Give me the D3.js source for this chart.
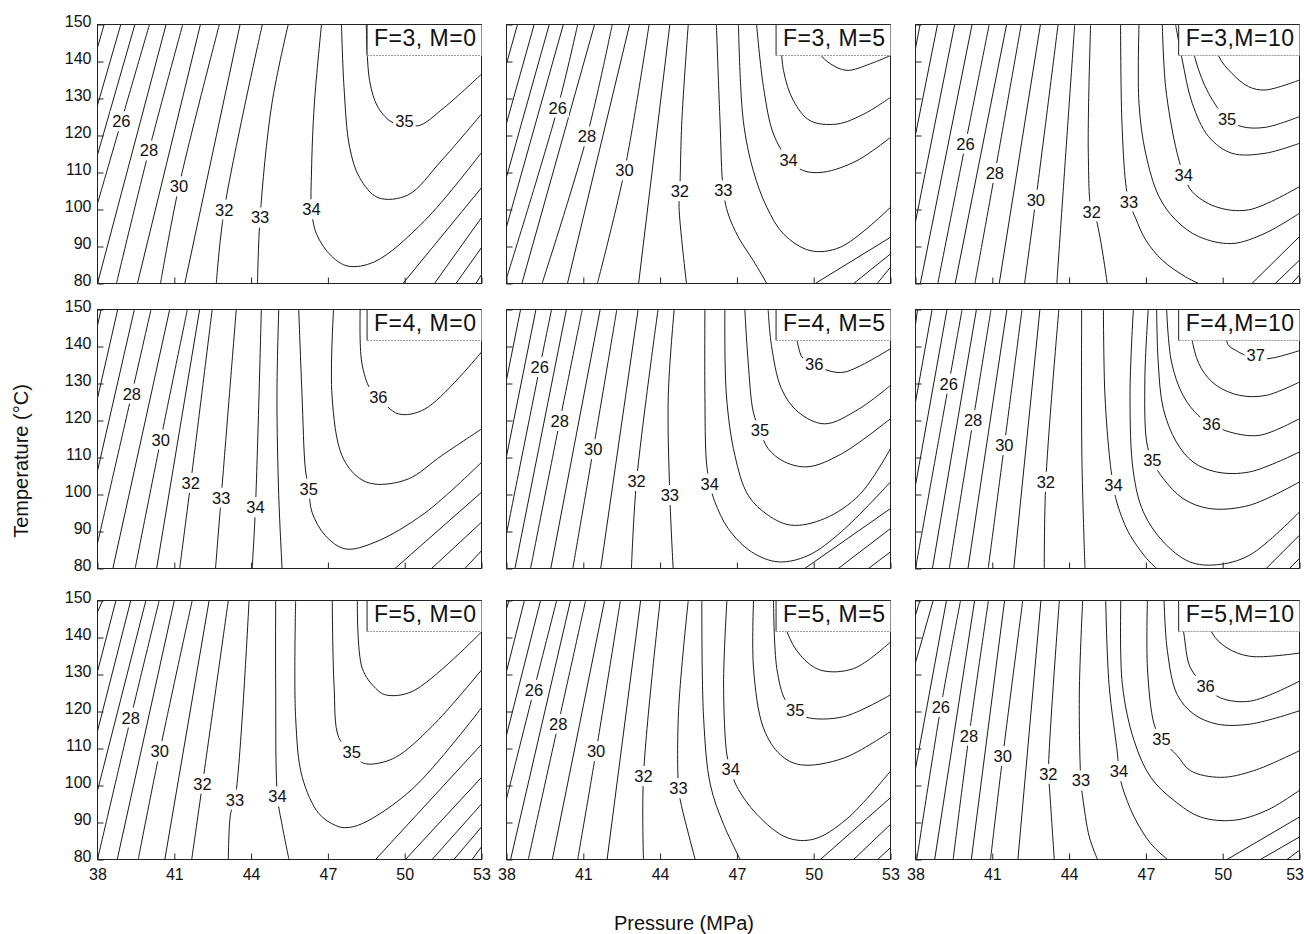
<!DOCTYPE html>
<html>
<head>
<meta charset="utf-8">
<script src="https://cdn.jsdelivr.net/npm/d3@7"></script>
<style>
  body { margin: 0; background: #fff; }
  text { font-family: "Liberation Sans", Arial, sans-serif; fill: #111; }
</style>
</head>
<body>
<svg id="chart" width="1304" height="934"></svg>
<script>
// axis ticks
const pressureTicks = [38, 41, 44, 47, 50, 53];
const tempTicks = [80, 90, 100, 110, 120, 130, 140, 150];

const panelTitles = ['F=3, M=0', 'F=3, M=5', 'F=3,M=10',
                     'F=4, M=0', 'F=4, M=5', 'F=4,M=10',
                     'F=5, M=0', 'F=5, M=5', 'F=5,M=10'];

// contour lines, points are [pressure MPa, temperature C]
const contoursF3M0 = [
  [[38,143.8],[38.26,150]],
  [[38,128.2],[38.91,150]],
  [[38,114.8],[39.46,150]],
  [[38,101.6],[38.93,123.8],[40.03,150]],
  [[38,80],[40.68,150]],
  [[38.74,80],[40.01,115.9],[41.33,150]],
  [[39.56,80],[42.02,150]],
  [[40.46,80],[41.18,106.2],[42.76,150]],
  [[41.41,80],[43.57,150]],
  [[42.64,80],[42.95,99.9],[44.44,150]],
  [[44.25,80],[44.35,97.8],[44.81,128.5],[45.45,150]],
  [[46.75,150],[46.47,128.5],[46.36,110.4],[46.36,100],[46.56,93.3],[47.14,87.4],[47.79,84.7],[48.83,85.9],[50.77,96.9],[53,115.4]],
  [[47.53,150],[47.63,133],[47.85,116.8],[48.24,108.6],[48.96,103.2],[50.12,103.9],[51.42,113.1],[53,125.8]],
  [[48.5,150],[48.63,134.8],[48.96,127.6],[49.54,123.5],[49.99,123.8],[50.51,122.6],[51.55,127.6],[53,136.6]],
  [[49.93,80],[53,105.9]],
  [[51.16,80],[53,97.8]],
  [[52,80],[53,89.7]],
  [[52.78,80],[53,82.4]]
];
const labelsF3M0 = [['26',38.93,123.8],['28',40.01,115.9],['30',41.18,106.2],['32',42.95,99.9],
                    ['33',44.35,97.8],['34',46.36,100],['35',49.99,123.8]];

const contoursF3M5 = [
  [[38,139.4],[38.43,150]],
  [[38,123.3],[39.08,150]],
  [[38,108.8],[39.67,150]],
  [[38,95.3],[40.22,150]],
  [[38,81.4],[40.0,127.5],[40.78,150]],
  [[38.6,80],[41.44,150]],
  [[39.39,80],[41.14,119.7],[42.13,150]],
  [[40.38,80],[42.81,150]],
  [[41.55,80],[42.61,110.5],[43.57,150]],
  [[43.16,80],[44.38,150]],
  [[45.03,80],[44.74,100.6],[44.77,104.9],[44.85,124],[45.1,150]],
  [[46.2,150],[46.34,124],[46.47,105.1],[46.66,98.8],[47.06,92.5],[47.64,86.2],[48.17,80]],
  [[47.06,150],[47.25,124],[47.64,110.5],[48.17,100.6],[48.82,93.4],[49.86,88.9],[51.04,89.8],[53,100.6]],
  [[47.77,150],[48.04,133],[48.43,120.4],[49.02,113.4],[49.6,110.5],[50.39,110.1],[51.69,113.2],[53,119.5]],
  [[48.69,150],[48.82,137.6],[49.21,129.4],[49.86,124],[50.91,123.1],[51.96,125.8],[53,130.3]],
  [[50.1,150],[50.26,142.1],[50.65,139.4],[51.3,137.6],[52.22,139.4],[53,141.6]],
  [[50.06,80],[53,92.5]],
  [[51.56,80],[53,88]],
  [[52.48,80],[53,84.4]]
];
const labelsF3M5 = [['26',40.0,127.5],['28',41.14,119.7],['30',42.61,110.5],['32',44.77,104.9],
                    ['33',46.47,105.1],['34',49.02,113.4]];

const contoursF3M10 = [
  [[38,143.6],[38.18,150]],
  [[38,120.2],[38.86,150]],
  [[38,96.7],[39.53,150]],
  [[38.19,80],[40.21,150]],
  [[38.87,80],[39.95,117.7],[40.88,150]],
  [[39.55,80],[41.56,150]],
  [[40.32,80],[41.1,109.8],[42.13,150]],
  [[41.27,80],[42.88,150]],
  [[42.26,80],[42.7,102.6],[43.57,150]],
  [[43.52,80],[43.87,115.2],[44.22,150]],
  [[45.49,80],[45.04,97.6],[44.88,99.4],[44.75,115.2],[44.84,150]],
  [[46.01,150],[46.06,124.2],[46.21,107.1],[46.34,102.1],[46.6,97.6],[46.99,91.8],[47.64,86.3],[48.55,81.8],[49.06,80]],
  [[46.73,150],[46.73,128.7],[46.99,115.2],[47.51,103.5],[48.16,97.2],[49.06,92.7],[50.36,90.8],[51.66,93.6],[53,99]],
  [[47.64,150],[47.77,133.2],[48.16,117],[48.48,109.3],[48.81,104.8],[49.71,100.8],[51.01,99.9],[53,106.2]],
  [[48.16,150],[48.42,140.4],[48.81,128.7],[49.45,119.7],[50.36,115.2],[51.66,115.2],[53,117.9]],
  [[48.68,150],[48.94,140.4],[49.45,131.4],[50.17,124.5],[50.75,122.4],[51.66,122.2],[53,125.1]],
  [[49.6,150],[49.84,141.5],[50.36,136.8],[51.01,133.2],[51.66,132.3],[53,135]],
  [[51.14,80],[53,92.7]],
  [[52.05,80],[53,86.3]],
  [[52.7,80],[53,82.3]]
];
const labelsF3M10 = [['26',39.95,117.7],['28',41.1,109.8],['30',42.7,102.6],['32',44.88,99.4],
                     ['33',46.34,102.1],['34',48.48,109.3],['35',50.17,124.5]];

const contoursF4M0 = [
  [[38,145.7],[38.14,150]],
  [[38,126],[38.79,150]],
  [[38,106.4],[39.44,150]],
  [[38,86.8],[39.34,127.2],[40.09,150]],
  [[38.6,80],[40.82,150]],
  [[39.47,80],[40.47,114.8],[41.51,150]],
  [[40.31,80],[41.99,150]],
  [[41.21,80],[41.64,103.1],[42.48,150]],
  [[42.61,80],[42.83,99.1],[43.42,150]],
  [[44.04,80],[44.17,96.5],[44.4,150]],
  [[45.08,150],[45.01,126.7],[45.08,99.7],[45.21,80]],
  [[45.86,150],[45.99,126.7],[46.12,106.9],[46.25,101.5],[46.38,95.2],[46.9,88.9],[47.68,85.3],[48.84,87.1],[50.79,95],[53,108.7]],
  [[47.22,150],[47.16,126.7],[47.55,110.5],[48.19,104.6],[48.84,102.8],[50.14,104.2],[51.44,110.5],[53,117.7]],
  [[48.26,150],[48.32,135.8],[48.65,128.5],[48.97,126.3],[49.75,121.8],[50.79,123.1],[53,138.5]],
  [[49.62,80],[53,100.6]],
  [[51.05,80],[53,92.5]],
  [[52.35,80],[53,84.8]]
];
const labelsF4M0 = [['28',39.34,127.2],['30',40.47,114.8],['32',41.64,103.1],['33',42.83,99.1],
                    ['34',44.17,96.5],['35',46.25,101.5],['36',48.97,126.3]];

const contoursF4M5 = [
  [[38,131],[38.55,150]],
  [[38,110.3],[39.15,150]],
  [[38,89.4],[39.3,134.4],[39.76,150]],
  [[38.33,80],[40.34,150]],
  [[38.94,80],[40.08,119.8],[40.96,150]],
  [[39.73,80],[41.66,150]],
  [[40.59,80],[41.39,112.2],[42.31,150]],
  [[41.68,80],[43.14,150]],
  [[42.88,80],[43.08,103.6],[43.92,150]],
  [[44.51,80],[44.38,99.8],[44.32,126.8],[44.55,150]],
  [[45.75,150],[45.75,126.8],[45.81,108.8],[45.94,102.9],[46.14,98],[46.66,90.8],[47.57,84.5],[48.61,81.8],[49.78,83.5],[51.09,90],[53,103.4]],
  [[46.53,150],[46.59,126.8],[46.92,110.6],[47.44,99.8],[48.22,94.4],[49.13,91.7],[50.43,93.5],[51.8,100],[53,112.4]],
  [[47.31,150],[47.44,135.8],[47.64,122.3],[47.9,117.3],[48.22,112.4],[48.87,108.8],[49.78,107.5],[51.09,111],[53,120.5]],
  [[48.22,150],[48.35,140.3],[48.74,128.6],[49.39,122.3],[50.43,119.1],[51.74,123],[53,129.5]],
  [[49.2,150],[49.39,140.3],[49.58,136.8],[50.02,135.3],[50.56,133.5],[51.22,133.1],[53,139.4]],
  [[49.65,80],[53,96.2]],
  [[50.96,80],[53,90.8]],
  [[52.14,80],[53,84.5]]
];
const labelsF4M5 = [['26',39.3,134.4],['28',40.08,119.8],['30',41.39,112.2],['32',43.08,103.6],
                    ['33',44.38,99.8],['34',45.94,102.9],['35',47.9,117.3],['36',50.02,135.3]];

const contoursF4M10 = [
  [[38,146],[38.08,150]],
  [[38,125],[38.65,150]],
  [[38,102.5],[39.23,150]],
  [[38,80],[39.3,129.9],[39.82,150]],
  [[38.66,80],[40.38,150]],
  [[39.32,80],[40.25,120],[40.95,150]],
  [[40.05,80],[41.57,150]],
  [[40.84,80],[41.47,113.3],[42.16,150]],
  [[41.84,80],[42.86,150]],
  [[43.03,80],[43.09,103.4],[43.6,150]],
  [[44.62,80],[44.5,110],[44.49,150]],
  [[45.34,150],[45.4,126.8],[45.6,108.8],[45.73,102.5],[45.86,98],[46.31,89.9],[47.03,82.7],[47.42,80]],
  [[46.51,150],[46.38,126.8],[46.51,106.1],[46.9,95.3],[47.68,87.2],[48.71,81.8],[49.75,81],[51.05,83.6],[53,95.3]],
  [[47.09,150],[46.96,131.3],[47.03,114.2],[47.25,109.2],[47.68,104.3],[48.45,98.9],[49.49,96.2],[51.05,97.1],[53,103.4]],
  [[47.42,150],[47.48,135.8],[47.68,123.2],[48.19,114.2],[48.84,108.8],[49.75,106.1],[51.05,106.1],[53,111.5]],
  [[47.81,150],[48.0,135.8],[48.45,126.8],[49.04,121.4],[49.56,119.1],[50.27,116.9],[51.44,116],[53,120.5]],
  [[48.7,150],[48.84,140.5],[49.17,134],[49.75,129.5],[50.66,126.8],[51.7,126.8],[53,130.4]],
  [[50.0,150],[50.21,140.5],[50.53,138.9],[50.92,137.6],[51.29,137.6],[51.7,136.7],[53,138.9]],
  [[51.7,80],[53,89]],
  [[52.61,80],[53,82.7]]
];
const labelsF4M10 = [['26',39.3,129.9],['28',40.25,120],['30',41.47,113.3],['32',43.09,103.4],
                     ['34',45.73,102.5],['35',47.25,109.2],['36',49.56,119.1],['37',51.29,137.6]];

const contoursF5M0 = [
  [[38,146.9],[38.2,150]],
  [[38,130.8],[38.72,150]],
  [[38,114.7],[39.3,150]],
  [[38,98.6],[39.89,150]],
  [[38,80],[39.3,118.3],[40.41,150]],
  [[38.77,80],[41.0,150]],
  [[39.59,80],[40.43,109.2],[41.7,150]],
  [[40.63,80],[42.36,150]],
  [[41.68,80],[42.1,100.4],[43.11,150]],
  [[43.11,80],[43.2,92.4],[43.37,96.1],[43.92,150]],
  [[45.48,80],[45.22,89],[45.03,97],[44.96,127.2],[44.96,150]],
  [[45.74,150],[45.74,118.3],[46.0,102.2],[46.65,92.4],[47.3,89.2],[47.69,88.6],[48.34,89.7],[50.29,99],[53,121]],
  [[47.17,150],[47.24,127.2],[47.43,112.9],[47.93,109.1],[48.34,106.2],[48.73,105.8],[49.64,107.6],[51.07,116],[53,131.2]],
  [[48.15,150],[48.34,131.7],[48.86,126.3],[49.25,124.5],[50.29,125.4],[53,141.5]],
  [[48.86,80],[53,111.1]],
  [[50.03,80],[53,102.2]],
  [[51.07,80],[53,95]],
  [[51.92,80],[53,88.8]],
  [[52.63,80],[53,83.4]]
];
const labelsF5M0 = [['28',39.3,118.3],['30',40.43,109.2],['32',42.1,100.4],['33',43.37,96.1],
                    ['34',45.03,97],['35',47.93,109.1]];

const contoursF5M5 = [
  [[38,147.8],[38.1,150]],
  [[38,130.8],[38.7,150]],
  [[38,113.6],[39.33,150]],
  [[38,96.4],[39.07,125.8],[39.96,150]],
  [[38.16,80],[40.5,150]],
  [[38.85,80],[40.02,116.6],[41.09,150]],
  [[39.79,80],[41.83,150]],
  [[40.78,80],[41.5,109.2],[42.45,150]],
  [[41.93,80],[43.24,150]],
  [[43.35,80],[43.35,102.5],[44.0,150]],
  [[45.37,80],[44.81,95.3],[44.72,99.2],[44.72,120],[45.1,150]],
  [[45.63,150],[45.7,118.2],[45.96,100.3],[46.48,89.5],[47.13,80]],
  [[46.61,150],[46.48,127.2],[46.61,108.3],[46.76,104.3],[46.99,99.8],[47.78,92.2],[48.96,85.9],[50.0,85.5],[51.3,91],[53,103.9]],
  [[47.65,150],[47.65,131.6],[48.04,115.5],[48.7,108.3],[49.48,105.6],[51.17,107.4],[53,114.6]],
  [[48.43,150],[48.56,131.6],[48.89,123.1],[49.28,120.4],[49.74,118.4],[51.17,118.6],[53,124.5]],
  [[48.7,150],[48.96,141.5],[49.48,135.2],[50.26,131.2],[51.56,131.6],[53,138.8]],
  [[50.26,80],[53,96.7]],
  [[51.56,80],[53,89.5]],
  [[52.5,80],[53,83.2]]
];
const labelsF5M5 = [['26',39.07,125.8],['28',40.02,116.6],['30',41.5,109.2],['32',43.35,102.5],
                    ['33',44.72,99.2],['34',46.76,104.3],['35',49.28,120.4]];

const contoursF5M10 = [
  [[38,146],[38.17,150]],
  [[38,133.2],[38.69,150]],
  [[38,104.5],[39.21,150]],
  [[38.05,80],[38.99,121.2],[39.76,150]],
  [[38.75,80],[40.31,150]],
  [[39.47,80],[40.09,113.4],[40.85,150]],
  [[40.18,80],[41.48,150]],
  [[40.93,80],[41.41,107.9],[42.19,150]],
  [[42.0,80],[42.9,150]],
  [[43.42,80],[43.23,99.6],[43.19,103.1],[43.62,150]],
  [[45.11,80],[44.79,86.1],[44.53,96.9],[44.46,101.3],[44.4,125],[44.53,150]],
  [[45.43,150],[45.56,127.3],[45.89,108.5],[45.95,103.8],[46.08,99.6],[46.54,91.5],[47.19,84.3],[47.84,80]],
  [[46.02,150],[46.08,127.3],[46.54,112.1],[47.19,102.2],[48.09,96],[49.13,91.5],[50.43,90.6],[51.73,93.3],[53,98.7]],
  [[47.06,150],[47.06,131.8],[47.32,116.6],[47.61,112.5],[48.22,108.1],[48.74,104],[49.91,102.2],[51.21,104],[53,109.4]],
  [[47.71,150],[47.84,136.3],[48.22,124.6],[48.87,119.3],[49.78,116.6],[51.08,116.6],[53,120.2]],
  [[48.3,150],[48.48,141.2],[48.74,131.8],[49.33,126.9],[49.91,123.7],[51.08,122.8],[53,128.2]],
  [[49.3,150],[49.59,141.2],[50.17,137.2],[51.08,134.9],[53,135.8]],
  [[50.17,80],[53,91.5]],
  [[51.47,80],[53,86.1]],
  [[52.51,80],[53,82.5]]
];
const labelsF5M10 = [['26',38.99,121.2],['28',40.09,113.4],['30',41.41,107.9],['32',43.19,103.1],
                     ['33',44.46,101.3],['34',45.95,103.8],['35',47.61,112.5],['36',49.33,126.9]];

const panelLines = [contoursF3M0, contoursF3M5, contoursF3M10,
                    contoursF4M0, contoursF4M5, contoursF4M10,
                    contoursF5M0, contoursF5M5, contoursF5M10];
const panelLabels = [labelsF3M0, labelsF3M5, labelsF3M10,
                     labelsF4M0, labelsF4M5, labelsF4M10,
                     labelsF5M0, labelsF5M5, labelsF5M10];

// layout
const colLeft = [97, 506, 915];
const rowTop = [24, 309, 600];
const panelW = 384, panelH = 259;
const fontFamily = '"Liberation Sans", Arial, sans-serif';

var svg = d3.select('#chart');

var x = d3.scaleLinear().domain([38, 53]).range([0, panelW]);
var y = d3.scaleLinear().domain([80, 150]).range([panelH, 0]);

var contourLine = d3.line()
    .x(d => x(d[0]))
    .y(d => y(d[1]))
    .curve(d3.curveCatmullRom.alpha(0.5));

panelTitles.forEach(function(title, i) {
    var r = Math.floor(i / 3), c = i % 3;
    var g = svg.append('g')
        .attr('transform', 'translate(' + (colLeft[c] + 0.5) + ',' + (rowTop[r] + 0.5) + ')');

    g.append('clipPath').attr('id', 'clip' + i)
        .append('rect').attr('width', panelW).attr('height', panelH);

    var body = g.append('g').attr('clip-path', 'url(#clip' + i + ')');

    body.selectAll('path')
        .data(panelLines[i])
            .enter()
                .append('path')
                    .attr('d', contourLine)
                    .attr('fill', 'none')
                    .attr('stroke', '#1a1a1a')
                    .attr('stroke-width', 1);

    // contour labels with a white knock-out behind them
    var labs = body.selectAll('g.lab')
        .data(panelLabels[i])
            .enter()
                .append('g')
                    .attr('class', 'lab')
                    .attr('transform', d => 'translate(' + x(d[1]) + ',' + y(d[2]) + ')');
    labs.append('text')
        .attr('text-anchor', 'middle')
        .attr('dy', '0.35em')
        .attr('font-size', 16.5)
        .text(d => d[0]);
    labs.each(function() {
        var bb = d3.select(this).select('text').node().getBBox();
        d3.select(this).insert('rect', 'text')
            .attr('x', bb.x - 2).attr('y', bb.y - 1)
            .attr('width', bb.width + 4).attr('height', bb.height + 2)
            .attr('fill', '#fff');
    });

    // axes with inward ticks
    var xAxis = d3.axisBottom(x).tickValues(pressureTicks)
        .tickSizeInner(-6).tickSizeOuter(0).tickPadding(9);
    if (r < 2) xAxis.tickFormat('');
    var xg = g.append('g')
        .attr('transform', 'translate(0,' + panelH + ')')
        .call(xAxis)
        .attr('font-size', 16).attr('font-family', fontFamily)
        .call(a => a.select('.domain').remove())
        .call(a => a.selectAll('line').attr('stroke', '#222'));
    if (c === 2) {
        // keep the last label inside the page
        xg.selectAll('text').filter(d => d === 53)
            .attr('text-anchor', 'end').attr('x', 4);
    }

    var yAxis = d3.axisLeft(y).tickValues(tempTicks)
        .tickSizeInner(-6).tickSizeOuter(0).tickPadding(6);
    if (c > 0) yAxis.tickFormat('');
    g.append('g')
        .call(yAxis)
        .attr('font-size', 16).attr('font-family', fontFamily)
        .call(a => a.select('.domain').remove())
        .call(a => a.selectAll('line').attr('stroke', '#222'))
        .call(a => a.selectAll('text').attr('y', -3));

    // frame
    g.append('rect')
        .attr('width', panelW).attr('height', panelH)
        .attr('fill', 'none').attr('stroke', '#222').attr('stroke-width', 1);

    // title box in the top right corner
    var tg = g.append('g');
    var tt = tg.append('text')
        .attr('x', panelW - 5).attr('y', 21)
        .attr('text-anchor', 'end')
        .attr('font-size', 23)
        .attr('letter-spacing', 0.5)
        .text(title);
    var tb = tt.node().getBBox();
    var bx = tb.x - 7;
    tg.insert('rect', 'text')
        .attr('x', bx).attr('y', 0)
        .attr('width', panelW - bx).attr('height', 31)
        .attr('fill', '#fff');
    tg.append('line')
        .attr('x1', bx).attr('x2', bx).attr('y1', 0).attr('y2', 31)
        .attr('stroke', '#222');
    tg.append('line')
        .attr('x1', bx).attr('x2', panelW).attr('y1', 31).attr('y2', 31)
        .attr('stroke', '#999').attr('stroke-dasharray', '2,1');
    tg.append('line')
        .attr('x1', bx).attr('x2', panelW).attr('y1', 0).attr('y2', 0)
        .attr('stroke', '#222');
});

// axis titles
svg.append('text')
    .attr('x', 684).attr('y', 930)
    .attr('text-anchor', 'middle')
    .attr('font-size', 20)
    .text('Pressure (MPa)');

svg.append('text')
    .attr('transform', 'translate(28,461) rotate(-90)')
    .attr('text-anchor', 'middle')
    .attr('font-size', 20)
    .text('Temperature (°C)');
</script>
</body>
</html>
